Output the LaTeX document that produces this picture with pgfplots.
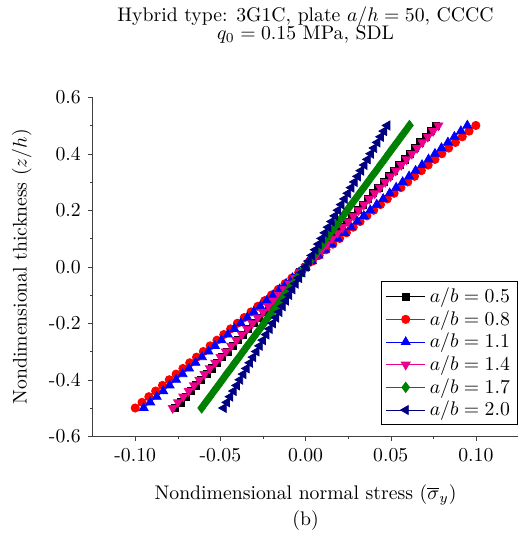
\documentclass[border=0pt]{standalone}
\usepackage{pgfplots}
\usepackage{pgfplotstable}
\pgfplotsset{compat=1.18}
\definecolor{dgreen}{RGB}{0,128,0}
\definecolor{dnavy}{RGB}{0,0,128}
\pgfplotstableread{
z s05 s08 s11 s14 s17 s20
-0.50 -0.0765 -0.1000 -0.0950 -0.0780 -0.0610 -0.0480
-0.48 -0.0734 -0.0960 -0.0912 -0.0749 -0.0586 -0.0461
-0.46 -0.0704 -0.0920 -0.0874 -0.0718 -0.0561 -0.0442
-0.44 -0.0673 -0.0880 -0.0836 -0.0686 -0.0537 -0.0422
-0.42 -0.0643 -0.0840 -0.0798 -0.0655 -0.0512 -0.0403
-0.40 -0.0612 -0.0800 -0.0760 -0.0624 -0.0488 -0.0384
-0.38 -0.0581 -0.0760 -0.0722 -0.0593 -0.0464 -0.0365
-0.36 -0.0551 -0.0720 -0.0684 -0.0562 -0.0439 -0.0346
-0.34 -0.0520 -0.0680 -0.0646 -0.0530 -0.0415 -0.0326
-0.32 -0.0490 -0.0640 -0.0608 -0.0499 -0.0390 -0.0307
-0.30 -0.0459 -0.0600 -0.0570 -0.0468 -0.0366 -0.0288
-0.28 -0.0428 -0.0560 -0.0532 -0.0437 -0.0342 -0.0269
-0.26 -0.0398 -0.0520 -0.0494 -0.0406 -0.0317 -0.0250
-0.24 -0.0367 -0.0480 -0.0456 -0.0374 -0.0293 -0.0230
-0.22 -0.0337 -0.0440 -0.0418 -0.0343 -0.0268 -0.0211
-0.20 -0.0306 -0.0400 -0.0380 -0.0312 -0.0244 -0.0192
-0.18 -0.0275 -0.0360 -0.0342 -0.0281 -0.0220 -0.0173
-0.16 -0.0245 -0.0320 -0.0304 -0.0250 -0.0195 -0.0154
-0.14 -0.0214 -0.0280 -0.0266 -0.0218 -0.0171 -0.0134
-0.12 -0.0184 -0.0240 -0.0228 -0.0187 -0.0146 -0.0115
-0.10 -0.0153 -0.0200 -0.0190 -0.0156 -0.0122 -0.0096
-0.08 -0.0122 -0.0160 -0.0152 -0.0125 -0.0098 -0.0077
-0.06 -0.0092 -0.0120 -0.0114 -0.0094 -0.0073 -0.0058
-0.04 -0.0061 -0.0080 -0.0076 -0.0062 -0.0049 -0.0038
-0.02 -0.0031 -0.0040 -0.0038 -0.0031 -0.0024 -0.0019
0.00 0.0000 0.0000 0.0000 0.0000 0.0000 0.0000
0.02 0.0031 0.0040 0.0038 0.0031 0.0024 0.0019
0.04 0.0061 0.0080 0.0076 0.0062 0.0049 0.0038
0.06 0.0092 0.0120 0.0114 0.0094 0.0073 0.0058
0.08 0.0122 0.0160 0.0152 0.0125 0.0098 0.0077
0.10 0.0153 0.0200 0.0190 0.0156 0.0122 0.0096
0.12 0.0184 0.0240 0.0228 0.0187 0.0146 0.0115
0.14 0.0214 0.0280 0.0266 0.0218 0.0171 0.0134
0.16 0.0245 0.0320 0.0304 0.0250 0.0195 0.0154
0.18 0.0275 0.0360 0.0342 0.0281 0.0220 0.0173
0.20 0.0306 0.0400 0.0380 0.0312 0.0244 0.0192
0.22 0.0337 0.0440 0.0418 0.0343 0.0268 0.0211
0.24 0.0367 0.0480 0.0456 0.0374 0.0293 0.0230
0.26 0.0398 0.0520 0.0494 0.0406 0.0317 0.0250
0.28 0.0428 0.0560 0.0532 0.0437 0.0342 0.0269
0.30 0.0459 0.0600 0.0570 0.0468 0.0366 0.0288
0.32 0.0490 0.0640 0.0608 0.0499 0.0390 0.0307
0.34 0.0520 0.0680 0.0646 0.0530 0.0415 0.0326
0.36 0.0551 0.0720 0.0684 0.0562 0.0439 0.0346
0.38 0.0581 0.0760 0.0722 0.0593 0.0464 0.0365
0.40 0.0612 0.0800 0.0760 0.0624 0.0488 0.0384
0.42 0.0643 0.0840 0.0798 0.0655 0.0512 0.0403
0.44 0.0673 0.0880 0.0836 0.0686 0.0537 0.0422
0.46 0.0704 0.0920 0.0874 0.0718 0.0561 0.0442
0.48 0.0734 0.0960 0.0912 0.0749 0.0586 0.0461
0.50 0.0765 0.1000 0.0950 0.0780 0.0610 0.0480
}\datatable
\begin{document}
\begin{tikzpicture}
\begin{axis}[
  name=ax,
  scale only axis,
  width=216pt, height=172pt,
  xmin=-0.125, xmax=0.125,
  ymin=-0.6, ymax=0.6,
  xtick={-0.10,-0.05,0,0.05,0.10},
  ytick={-0.6,-0.4,-0.2,0,0.2,0.4,0.6},
  minor x tick num=1,
  minor y tick num=1,
  axis x line*=bottom,
  axis y line*=left,
  axis line style={-, black!75},
  tick style={black!75},
  tick align=outside,
  major tick length=2.5pt,
  minor tick length=1.5pt,
  /pgf/number format/assume math mode=true,
  xticklabel style={/pgf/number format/fixed,/pgf/number format/fixed zerofill,/pgf/number format/precision=2},
  yticklabel style={/pgf/number format/fixed,/pgf/number format/fixed zerofill,/pgf/number format/precision=1},
  scaled x ticks=false,
  scaled y ticks=false,
  title={Hybrid type: 3G1C, plate $a/h = 50$, CCCC\\[-3pt]$q_0 = 0.15$ MPa, SDL},
  title style={align=center, yshift=18pt},
  xlabel={Nondimensional normal stress ($\overline{\sigma}_y$)\\[1pt](b)},
  xlabel style={align=center, yshift=-5pt},
  ylabel={Nondimensional thickness ($z/h$)},
  ylabel style={yshift=2pt},
  legend style={at={(rel axis cs:1,0.032)}, anchor=south east, draw=black, line width=0.6pt, font=\normalsize, row sep=-1.5pt, inner xsep=2pt, inner ysep=1pt},
  legend cell align=left,
  legend image code/.code={\draw[mark repeat=2,mark phase=2,#1,line width=0.4pt] plot coordinates {(0pt,0pt) (10pt,0pt) (20pt,0pt)};},
  every axis plot/.append style={line width=0.4pt},
  after end axis/.code={\path ([shift={(-47pt,-50pt)}]rel axis cs:0,0) rectangle ([shift={(5pt,43.5pt)}]rel axis cs:1,1);},
]
\addplot[black, mark=square*, mark size=1.8pt] table[x=s05, y=z] {\datatable};
\addlegendentry{$a/b = 0.5$}
\addplot[red, mark=*, mark size=2.1pt] table[x=s08, y=z] {\datatable};
\addlegendentry{$a/b = 0.8$}
\addplot[blue, mark=triangle*, mark size=2.6pt] table[x=s11, y=z] {\datatable};
\addlegendentry{$a/b = 1.1$}
\addplot[magenta, mark=triangle*, mark size=2.6pt, mark options={rotate=180}] table[x=s14, y=z] {\datatable};
\addlegendentry{$a/b = 1.4$}
\addplot[dgreen, mark=diamond*, mark size=2.6pt] table[x=s17, y=z] {\datatable};
\addlegendentry{$a/b = 1.7$}
\addplot[dnavy, mark=triangle*, mark size=2.6pt, mark options={rotate=90}] table[x=s20, y=z] {\datatable};
\addlegendentry{$a/b = 2.0$}
\end{axis}
\end{tikzpicture}
\end{document}
